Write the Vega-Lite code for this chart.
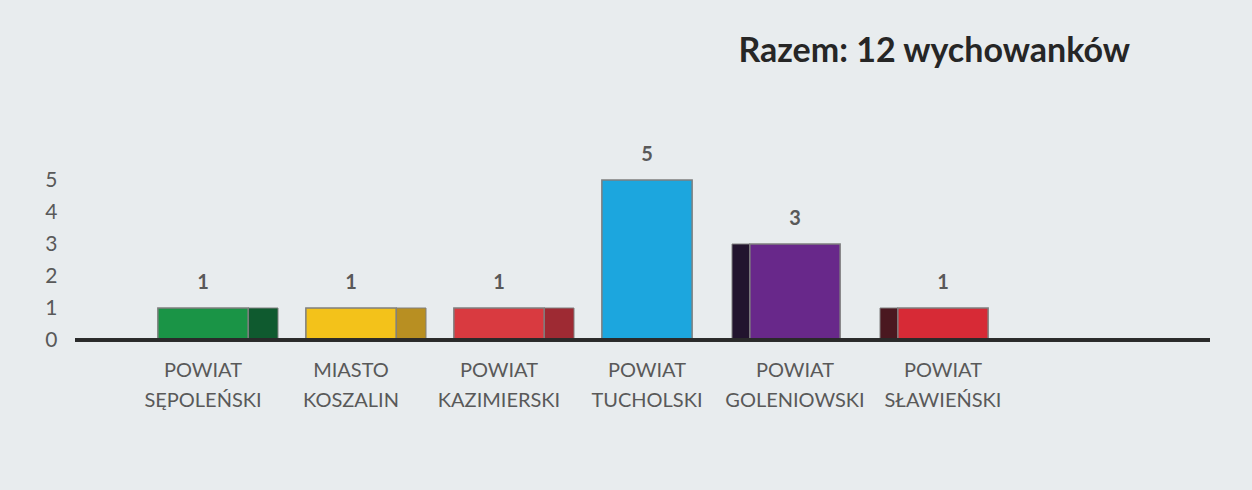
{
  "$schema": "https://vega.github.io/schema/vega-lite/v6.json",
  "width": 1135,
  "height": 160,
  "autosize": {"type": "none"},
  "padding": {"left": 75, "top": 180, "right": 42, "bottom": 150},
  "background": "#e8ecee",
  "config": {"view": {"stroke": null}, "font": "Lato"},
  "title": {
    "text": "Razem: 12 wychowanków",
    "anchor": "end",
    "frame": "group",
    "dx": -80,
    "offset": 76,
    "fontSize": 34,
    "fontWeight": "bold",
    "font": "Lato",
    "color": "#262626"
  },
  "data": {
    "values": [
      {"powiat": "POWIAT SĘPOLEŃSKI", "n": 1},
      {"powiat": "MIASTO KOSZALIN", "n": 1},
      {"powiat": "POWIAT KAZIMIERSKI", "n": 1},
      {"powiat": "POWIAT TUCHOLSKI", "n": 5},
      {"powiat": "POWIAT GOLENIOWSKI", "n": 3},
      {"powiat": "POWIAT SŁAWIEŃSKI", "n": 1}
    ]
  },
  "encoding": {
    "x": {
      "field": "powiat",
      "type": "nominal",
      "sort": null,
      "scale": {
        "domain": ["POWIAT SĘPOLEŃSKI", "MIASTO KOSZALIN", "POWIAT KAZIMIERSKI", "POWIAT TUCHOLSKI", "POWIAT GOLENIOWSKI", "POWIAT SŁAWIEŃSKI"],
        "range": [54, 942],
        "paddingInner": 0.39,
        "paddingOuter": 0.195
      },
      "axis": {
        "title": null,
        "labelAngle": 0,
        "labelExpr": "split(datum.label, ' ')",
        "labelFontSize": 20,
        "labelLineHeight": 30,
        "labelColor": "#595959",
        "labelPadding": 20,
        "ticks": false,
        "domain": false
      }
    },
    "y": {
      "field": "n",
      "type": "quantitative",
      "scale": {"domain": [0, 5]},
      "axis": {
        "title": null,
        "values": [0, 1, 2, 3, 4, 5],
        "labelOverlap": false,
        "grid": false,
        "domain": false,
        "ticks": false,
        "labelFontSize": 21,
        "labelColor": "#595959",
        "labelPadding": 18
      }
    }
  },
  "layer": [
    {
      "transform": [{"filter": "indexof(['POWIAT SĘPOLEŃSKI','MIASTO KOSZALIN','POWIAT KAZIMIERSKI'], datum.powiat) >= 0"}],
      "mark": {"type": "bar", "width": 30, "xOffset": 60, "stroke": "#7f7f7f", "strokeWidth": 1},
      "encoding": {
        "color": {
          "field": "powiat",
          "type": "nominal",
          "legend": null,
          "scale": {
            "domain": ["POWIAT SĘPOLEŃSKI", "MIASTO KOSZALIN", "POWIAT KAZIMIERSKI"],
            "range": ["#0f5a2f", "#b88f22", "#9e2a33"]
          }
        }
      }
    },
    {
      "transform": [{"filter": "indexof(['POWIAT GOLENIOWSKI','POWIAT SŁAWIEŃSKI'], datum.powiat) >= 0"}],
      "mark": {"type": "bar", "width": 18, "xOffset": -54, "stroke": "#7f7f7f", "strokeWidth": 1},
      "encoding": {
        "color": {
          "field": "powiat",
          "type": "nominal",
          "legend": null,
          "scale": {
            "domain": ["POWIAT GOLENIOWSKI", "POWIAT SŁAWIEŃSKI"],
            "range": ["#22142e", "#4a1820"]
          }
        }
      }
    },
    {
      "mark": {"type": "bar", "stroke": "#7f7f7f", "strokeWidth": 1.5},
      "encoding": {
        "fill": {
          "field": "powiat",
          "type": "nominal",
          "legend": null,
          "scale": {
            "domain": ["POWIAT SĘPOLEŃSKI", "MIASTO KOSZALIN", "POWIAT KAZIMIERSKI", "POWIAT TUCHOLSKI", "POWIAT GOLENIOWSKI", "POWIAT SŁAWIEŃSKI"],
            "range": ["#1a9446", "#f3c21a", "#d93a40", "#1ca6de", "#68288a", "#d72a36"]
          }
        }
      }
    },
    {
      "mark": {"type": "rule", "color": "#2a2a2a", "strokeWidth": 3},
      "encoding": {"y": {"datum": 0}, "x": null}
    },
    {
      "mark": {"type": "text", "baseline": "bottom", "dy": -15, "fontSize": 20, "fontWeight": "bold", "color": "#595959"},
      "encoding": {"text": {"field": "n", "type": "quantitative"}}
    }
  ],
  "resolve": {"scale": {"color": "independent"}}
}
